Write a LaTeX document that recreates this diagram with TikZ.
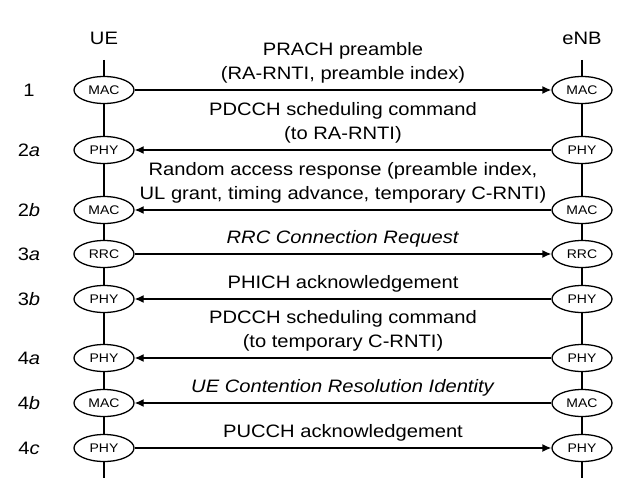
\documentclass[tikz,border=0pt]{standalone}
\usepackage{fontspec}
\setmainfont{Liberation Sans}[FakeStretch=1.12]
\usetikzlibrary{arrows.meta,positioning,shapes.geometric}

\begin{document}
\begin{tikzpicture}[x=1pt,y=-1pt,every node/.style={align=center,font=\fontsize{18}{24}\selectfont},
  layer/.style={draw,ellipse,line width=1.3pt,fill=white,minimum width=60pt,minimum height=27pt,inner sep=0pt,font=\fontsize{12.5}{14}\selectfont},
  life/.style={line width=1.3pt},
  msg/.style={-{Latex[length=9pt,width=8pt]},line width=1.3pt}]
      \useasboundingbox (0,0) rectangle (627,487);
      \node (ue) at (104,38) {UE};
      \node (enb) at (582,38) {eNB};
      \coordinate (uetop) at (104,60);
      \coordinate (enbtop) at (582,60);
      \coordinate (uebot) at (104,478);
      \coordinate (enbbot) at (582,478);
      \foreach \r/\y/\l/\t in {1/90/1/MAC,2a/150/2\textit{a}/PHY,2b/210/2\textit{b}/MAC,3a/254/3\textit{a}/RRC,3b/299/3\textit{b}/PHY,4a/358/4\textit{a}/PHY,4b/403/4\textit{b}/MAC,4c/448/4\textit{c}/PHY}{
        \node (r\r) at (29,\y) {\l};
        \node[layer] (u\r) at (104,\y) {\t};
        \node[layer] (n\r) at (582,\y) {\t};
      }
      \draw[life] (uetop) -- (u1) -- (u2a) -- (u2b) -- (u3a) -- (u3b) -- (u4a) -- (u4b) -- (u4c) -- (uebot);
      \draw[life] (enbtop) -- (n1) -- (n2a) -- (n2b) -- (n3a) -- (n3b) -- (n4a) -- (n4b) -- (n4c) -- (enbbot);
      \draw[msg] (u1) -- node[above=3pt] {PRACH preamble\\(RA-RNTI, preamble index)} (n1);
      \draw[msg] (n2a) -- node[above=3pt] {PDCCH scheduling command\\(to RA-RNTI)} (u2a);
      \draw[msg] (n2b) -- node[above=3pt] {Random access response (preamble index,\\UL grant, timing advance, temporary C-RNTI)} (u2b);
      \draw[msg] (u3a) -- node[above=3pt] {\textit{RRC Connection Request}} (n3a);
      \draw[msg] (n3b) -- node[above=3pt] {PHICH acknowledgement} (u3b);
      \draw[msg] (n4a) -- node[above=3pt] {PDCCH scheduling command\\(to temporary C-RNTI)} (u4a);
      \draw[msg] (n4b) -- node[above=3pt] {\textit{UE Contention Resolution Identity}} (u4b);
      \draw[msg] (u4c) -- node[above=3pt] {PUCCH acknowledgement} (n4c);
    \end{tikzpicture}
\end{document}
